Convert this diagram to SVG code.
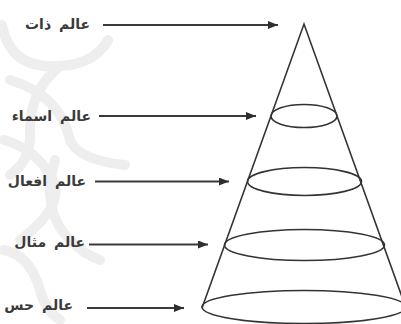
<svg xmlns="http://www.w3.org/2000/svg" width="401" height="324" viewBox="0 0 401 324">
<defs>
<marker id="ah" markerWidth="10" markerHeight="8" refX="10" refY="4" orient="auto" markerUnits="userSpaceOnUse">
<path d="M0,0 L10,4 L0,8 Z" fill="#2e2e2e"/>
</marker>
<style>
.lbl{font-family:"DejaVu Sans","Noto Sans",sans-serif;font-size:14px;font-weight:bold;fill:#3a3a3a;text-anchor:end;word-spacing:3px}
.cone{fill:none;stroke:#333;stroke-width:1.6}
.conn{stroke:#3a3a3a;stroke-width:1.8;fill:none;marker-end:url(#ah)}
.wm{fill:none;stroke:#eeeeee;stroke-width:10;stroke-linecap:round}
</style>
</defs>
<rect width="401" height="324" fill="#fff"/>
<g id="watermark">
<path class="wm" d="M2,25 Q10,70 60,66 Q95,64 108,40"/>
<path class="wm" d="M60,66 Q30,90 30,130 Q32,160 10,175"/>
<path class="wm" d="M10,80 Q60,95 70,140 Q78,160 125,165"/>
<path class="wm" d="M4,140 Q40,150 55,185 Q60,210 20,240"/>
<path class="wm" d="M55,160 Q40,210 70,240 Q85,255 100,260"/>
<path class="wm" d="M4,250 Q30,255 40,290 Q45,310 60,320"/>
</g>
<g id="cone" class="cone">
<path d="M202,308 L304,24 L406,308"/>
</g>
<g id="level-zat">
<text class="lbl" x="90" y="29">عالم ذات</text>
</g>
<g id="level-asma">
<ellipse class="cone" cx="304" cy="116" rx="33" ry="11.5"/>
<text class="lbl" x="91" y="121">عالم اسماء</text>
</g>
<g id="level-afal">
<ellipse class="cone" cx="304.5" cy="181.5" rx="57" ry="14"/>
<text class="lbl" x="86" y="186">عالم افعال</text>
</g>
<g id="level-mesal">
<ellipse class="cone" cx="304.5" cy="245" rx="80" ry="15.5"/>
<text class="lbl" x="85" y="247">عالم مثال</text>
</g>
<g id="level-hess">
<ellipse class="cone" cx="304" cy="307" rx="102" ry="16.5"/>
<text class="lbl" x="73" y="310">عالم حس</text>
</g>
<g id="connectors">
<line class="conn" x1="103" y1="25" x2="278" y2="25"/>
<line class="conn" x1="99" y1="116" x2="256" y2="116"/>
<line class="conn" x1="95" y1="181.5" x2="229" y2="181.5"/>
<line class="conn" x1="89" y1="244.5" x2="208" y2="244.5"/>
<line class="conn" x1="87" y1="308" x2="184" y2="308"/>
</g>
</svg>
